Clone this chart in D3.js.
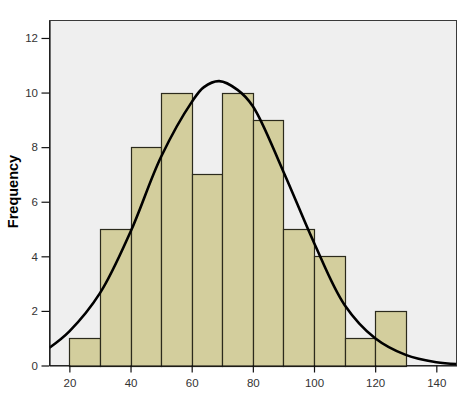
<!DOCTYPE html>
<html>
<head>
<meta charset="utf-8">
<script src="https://cdn.jsdelivr.net/npm/d3@7"></script>
<style>
  body { margin: 0; background: #fff; }
  svg { display: block; font-family: Arial, "Liberation Sans", sans-serif; }
</style>
</head>
<body>
<div id="chart"></div>
<script>
// histogram bins (lower edge) and counts
var binStarts = [20, 30, 40, 50, 60, 70, 80, 90, 100, 110, 120];
var binWidth = 10;
var counts = [1, 5, 8, 10, 7, 10, 9, 5, 4, 1, 2];

// normal curve, points
var curveX = [13.5, 20, 30, 40, 50, 60, 64, 69, 75, 80, 90, 100, 110, 120, 130, 140, 146.6];
var curveY = [0.65, 1.25, 2.65, 4.9, 7.65, 9.65, 10.2, 10.42, 10.1, 9.5, 7.1, 4.5, 2.22, 1.0, 0.39, 0.12, 0.05];

var xTicks = [20, 40, 60, 80, 100, 120, 140];
var yTicks = [0, 2, 4, 6, 8, 10, 12];

var width = 465, height = 397;
var pLeft = 49.5, pRight = 456.5, pTop = 20.5, pBottom = 365.5;

var svg = d3.select("#chart").append("svg")
    .attr("width", width)
    .attr("height", height);

var x = d3.scaleLinear().domain([13.5, 146.6]).range([pLeft, pRight]);
var y = d3.scaleLinear().domain([0, 12.64]).range([pBottom, pTop]);

// plot background + frame
svg.append("rect")
    .attr("x", pLeft)
    .attr("y", pTop)
    .attr("width", pRight - pLeft)
    .attr("height", pBottom - pTop)
    .attr("fill", "#efefef")
    .attr("stroke", "#3a3a3a")
    .attr("stroke-width", 1);

// bars
svg.selectAll("rect.bar")
    .data(counts)
    .enter()
    .append("rect")
    .attr("class", "bar")
    .attr("x", function(d, i){ return Math.round(x(binStarts[i])) + 0.5; })
    .attr("y", function(d){ return Math.round(y(d)) + 0.5; })
    .attr("width", function(d, i){ return Math.round(x(binStarts[i] + binWidth)) - Math.round(x(binStarts[i])); })
    .attr("height", function(d){ return Math.round(y(0)) - Math.round(y(d)); })
    .attr("fill", "#d3ce9d")
    .attr("stroke", "#2b2a1c")
    .attr("stroke-width", 1.2);

// normal curve
var line = d3.line()
    .x(function(d){ return x(d); })
    .y(function(d, i){ return y(curveY[i]); })
    .curve(d3.curveCatmullRom);

svg.append("defs").append("clipPath")
    .attr("id", "clip")
    .append("rect")
    .attr("x", pLeft)
    .attr("y", pTop)
    .attr("width", pRight - pLeft)
    .attr("height", pBottom - pTop);

svg.append("path")
    .datum(curveX)
    .attr("d", line)
    .attr("clip-path", "url(#clip)")
    .attr("fill", "none")
    .attr("stroke", "#000")
    .attr("stroke-width", 2.6);

// axes
var xAxis = svg.append("g")
    .attr("transform", "translate(0," + pBottom + ")")
    .call(d3.axisBottom(x).tickValues(xTicks).tickSize(7).tickPadding(6).tickSizeOuter(0));

var yAxis = svg.append("g")
    .attr("transform", "translate(" + pLeft + ",0)")
    .call(d3.axisLeft(y).tickValues(yTicks).tickSize(8).tickPadding(3.5).tickSizeOuter(0));

[xAxis, yAxis].forEach(function(g){
    g.select(".domain").attr("stroke", "#111").attr("stroke-width", 1.2);
    g.selectAll(".tick line").attr("stroke", "#111").attr("stroke-width", 1.2);
    g.selectAll(".tick text")
        .attr("fill", "#333")
        .attr("font-size", "11.5px")
        .attr("font-family", "Arial, 'Liberation Sans', sans-serif");
});

// y title
svg.append("text")
    .attr("transform", "translate(17.5,191.5) rotate(-90)")
    .attr("text-anchor", "middle")
    .attr("font-size", "14.5px")
    .attr("font-weight", "bold")
    .attr("fill", "#000")
    .text("Frequency");
</script>
</body>
</html>
